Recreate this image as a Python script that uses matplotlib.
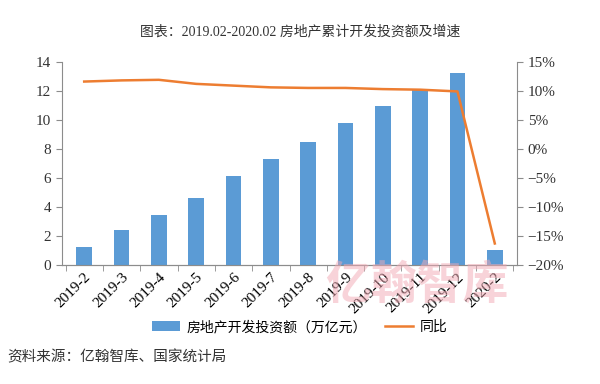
import matplotlib
matplotlib.use('Agg')
import matplotlib.pyplot as plt
import numpy as np
from matplotlib.ticker import FuncFormatter, FixedLocator

serif = ['Liberation Serif', 'Noto Sans CJK SC', 'DejaVu Sans']
plt.rcParams['font.family'] = serif

months = ['2019-2', '2019-3', '2019-4', '2019-5', '2019-6', '2019-7',
          '2019-8', '2019-9', '2019-10', '2019-11', '2019-12', '2020-2']
invest = [1.21, 2.38, 3.42, 4.61, 6.16, 7.28, 8.46, 9.80, 10.96, 12.13, 13.22, 1.01]
yoy = [11.6, 11.8, 11.9, 11.2, 10.9, 10.6, 10.5, 10.5, 10.3, 10.2, 9.9, -16.3]

grey = '#8c8c8c'

fig = plt.figure(figsize=(6, 3.84), dpi=100)
ax = fig.add_axes([0.103, 0.31, 0.759, 0.529])
ax2 = ax.twinx()

x = np.arange(len(months))
bars = ax.bar(x, invest, width=0.42, color='#5B9BD5', zorder=3)
line, = ax2.plot(x, yoy, color='#ED7D31', lw=1.8, zorder=4)

ax.set_xlim(-0.6, len(months) - 0.4)
ax.set_ylim(0, 14)
ax.set_yticks(range(0, 15, 2))
ax2.set_ylim(-20, 15)
ax2.set_yticks(range(-20, 16, 5))
ax2.yaxis.set_major_formatter(FuncFormatter(lambda v, p: ('%d%%' % v).replace('-', '\u2212')))

ax.set_xticks(x)
ax.set_xticklabels(months, rotation=45, ha='right', rotation_mode='anchor',
                   fontsize=11, family=serif)
ax.tick_params(axis='x', length=0, pad=4)
ax.xaxis.set_minor_locator(FixedLocator(np.arange(-0.5, len(months), 1)))
ax.tick_params(axis='x', which='minor', length=4, color=grey, direction='out')

for a in (ax, ax2):
    a.spines['top'].set_visible(False)
    for s in ('left', 'right', 'bottom'):
        a.spines[s].set_color(grey)
    a.tick_params(axis='y', colors=grey, labelcolor='#333333', labelsize=11, length=4)
    for t in a.get_yticklabels():
        t.set_family(serif)
ax2.spines['left'].set_visible(False)
ax.spines['right'].set_visible(False)

fig.text(0.5, 0.918, '图表：2019.02-2020.02 房地产累计开发投资额及增速',
         ha='center', va='center', fontsize=10, family=serif, color='#333333')

fig.legend([bars, line], ['房地产开发投资额（万亿元）', '同比'], loc='center',
           bbox_to_anchor=(0.5, 0.148), ncol=2, frameon=False,
           prop={'family': serif, 'size': 10}, handlelength=2.0, columnspacing=1.3,
           handletextpad=0.5)

fig.text(0.012, 0.07, '资料来源：亿翰智库、国家统计局', ha='left', va='center',
         fontsize=10.5, family=serif, color='#333333')

# watermark
fig.text(0.695, 0.253, '亿翰智库', ha='center', va='center', fontsize=33,
         family=serif, weight='bold', color='#F2A9B4', alpha=0.5, zorder=0)

fig.savefig('out.png', dpi=100)
